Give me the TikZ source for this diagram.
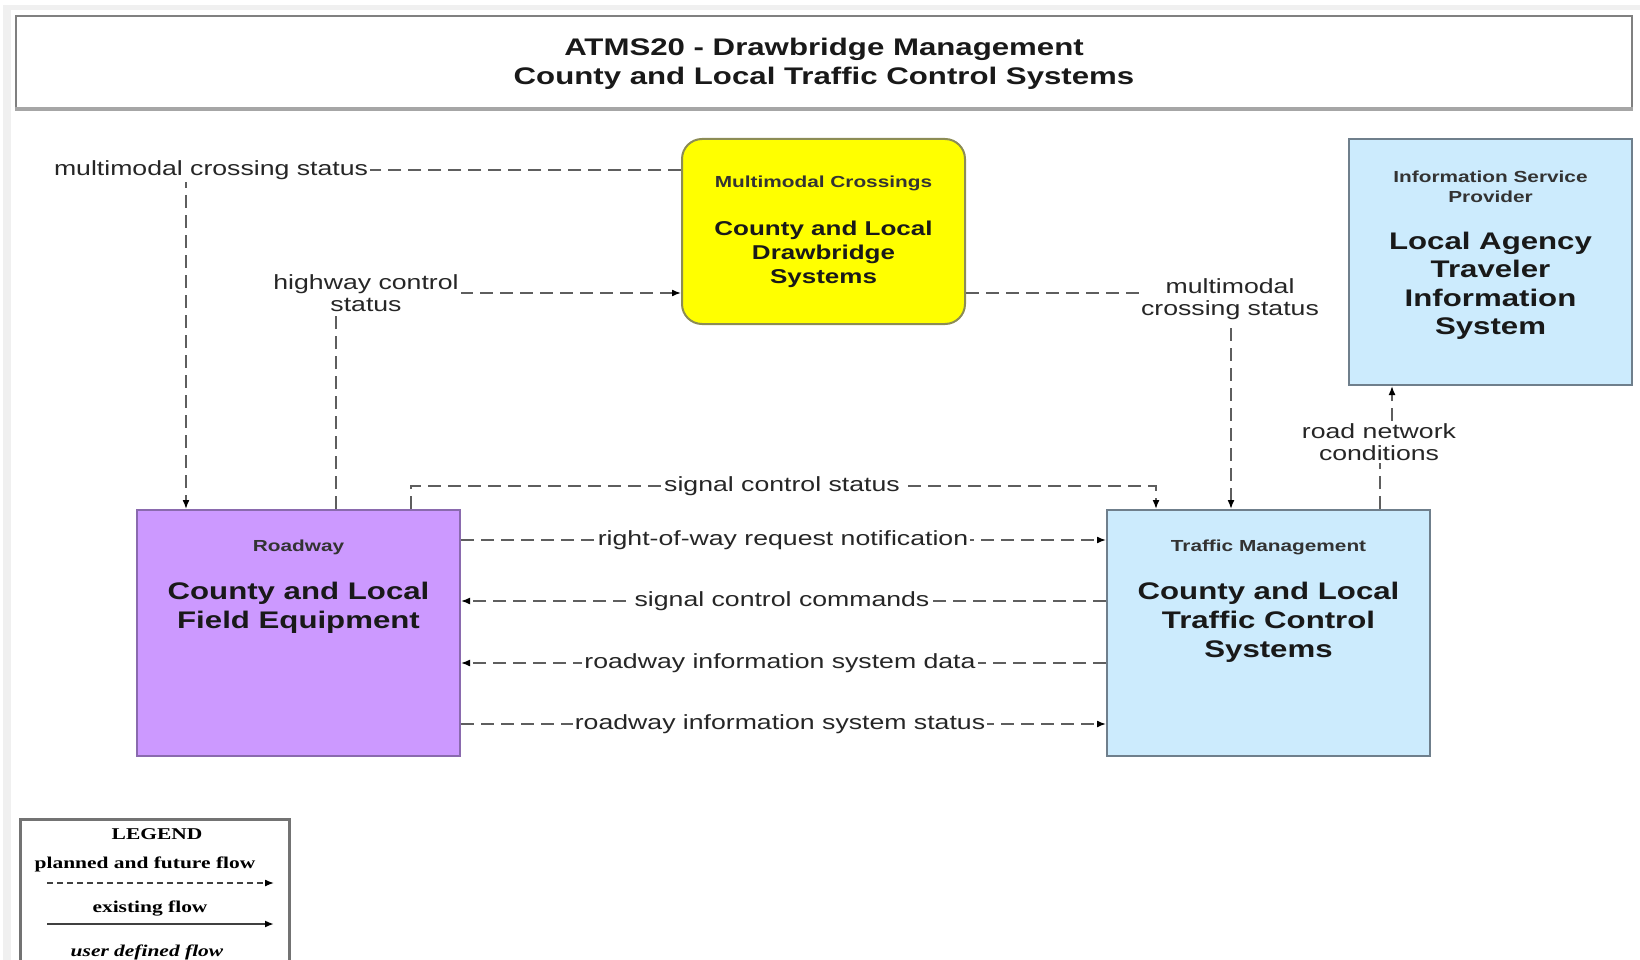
\documentclass[tikz,border=0pt]{standalone}
\usepackage{fontspec}
\setmainfont{Liberation Sans}[FakeStretch=1.3]
\newfontfamily\legendfont{Liberation Serif}[FakeStretch=1.3]
\usetikzlibrary{arrows.meta}

\definecolor{xingyellow}{HTML}{FFFF00}
\definecolor{xingedge}{HTML}{8C8C55}
\definecolor{rwpurple}{HTML}{CC99FF}
\definecolor{rwedge}{HTML}{8A6AAE}
\definecolor{tmblue}{HTML}{CCEBFD}
\definecolor{tmedge}{HTML}{6F7F8C}
\definecolor{flowgray}{HTML}{5E5E5E}
\definecolor{bandgray}{HTML}{F0F0F0}

\tikzset{
	box/.style={draw, line width=2pt, minimum width=323pt, minimum height=246pt, inner sep=0pt},
	hdr/.style={font=\fontsize{16}{19.5}\selectfont\bfseries, text=black!80, align=center},
	main/.style={font=\fontsize{24}{29}\selectfont\bfseries, text=black!90, align=center},
	flow/.style={draw=flowgray, line width=1.6pt, dash pattern=on 13pt off 7pt,
		-{Latex[length=9pt,width=7pt,color=black]}},
	flowlbl/.style={fill=white, inner sep=2pt, font=\fontsize{20.5}{22}\selectfont,
		text=black!85, align=center},
}

\begin{document}
\begin{tikzpicture}[x=1pt,y=-1pt]
	\useasboundingbox (0,0) rectangle (1640,960);
	\fill[bandgray] (3,5) rectangle (1640,10);
	\fill[bandgray] (3,5) rectangle (11,960);

	% title
	\node[draw=black!50, line width=2.5pt, minimum width=1616pt, minimum height=92pt] (title) at (824,62) {};
	\draw[black!35, line width=4pt] (title.south west) -- (title.south east);
	\node[font=\fontsize{24}{29}\selectfont\bfseries, align=center, text=black!90] (ttext) at (824,63.5)
		{ATMS20 - Drawbridge Management\\County and Local Traffic Control Systems};

	% boxes
	\node[box, draw=xingedge, fill=xingyellow, rounded corners=20pt, minimum width=283pt, minimum height=185pt] (xing) at (823.5,231.5) {};
	\node[box, draw=tmedge, fill=tmblue, minimum width=283pt] (isp) at (1490.5,262) {};
	\node[box, draw=rwedge, fill=rwpurple] (rw) at (298.5,633) {};
	\node[box, draw=tmedge, fill=tmblue] (tm) at (1268.5,633) {};

	\node[hdr] (xinghdr) at (823.5,183) {Multimodal Crossings};
	\node[main, font=\fontsize{20}{24}\selectfont\bfseries] (xingtxt) at (823.5,254)
		{County and Local\\Drawbridge\\Systems};
	\node[hdr] (isphdr) at (1490.5,187) {Information Service\\Provider};
	\node[main, font=\fontsize{24}{28.5}\selectfont\bfseries] (isptxt) at (1490.5,286)
		{Local Agency\\Traveler\\Information\\System};
	\node[hdr] (rwhdr) at (298.5,547) {Roadway};
	\node[main] (rwtxt) at (298.5,607.5) {County and Local\\Field Equipment};
	\node[hdr] (tmhdr) at (1268.5,547) {Traffic Management};
	\node[main] (tmtxt) at (1268.5,622) {County and Local\\Traffic Control\\Systems};

	% corners of the bent flows
	\coordinate (c1) at (186,170);
	\coordinate (c2) at (336,293);
	\coordinate (c3) at (1231,293);
	\coordinate (c4a) at (1380,441);
	\coordinate (c4b) at (1392,441);
	\coordinate (c5a) at (411,486);
	\coordinate (c5b) at (1156,486);

	% flows
	\draw[flow] (xing.west |- c1) -- (c1) -- (rw.north -| c1);
	\draw[flow] (rw.north -| c2) -- (c2) -- (xing.west |- c2);
	\draw[flow] (xing.east |- c3) -- (c3) -- (tm.north -| c3);
	\draw[flow] (tm.north -| c4a) -- (c4a) -- (c4b) -- (isp.south -| c4b);
	\draw[flow] (rw.north -| c5a) -- (c5a) -- (c5b) -- (tm.north -| c5b);
	\draw[flow] (rw.east |- 0,540) -- (tm.west |- 0,540);
	\draw[flow] (tm.west |- 0,601) -- (rw.east |- 0,601);
	\draw[flow] (tm.west |- 0,663) -- (rw.east |- 0,663);
	\draw[flow] (rw.east |- 0,724) -- (tm.west |- 0,724);

	% flow labels
	\node[flowlbl] (l1) at (211,170) {multimodal crossing status};
	\node[flowlbl] (l2) at (366,293) {highway control\\status};
	\node[flowlbl] (l3) at (1230,299) {multimodal\\crossing status};
	\node[flowlbl] (l4) at (1379,442) {road network\\conditions};
	\node[flowlbl] (l5) at (782,486) {signal control status};
	\node[flowlbl] (l6) at (783,540) {right-of-way request notification};
	\node[flowlbl] (l7) at (782,601) {signal control commands};
	\node[flowlbl] (l8) at (780,663) {roadway information system data};
	\node[flowlbl] (l9) at (780,724) {roadway information system status};

	% legend
	\draw[black!55, line width=3pt] (20,990) -- (20,819) -- (289,819) -- (289,990);
	\node[font=\fontsize{16.5}{19}\legendfont\bfseries] (lg) at (157,834) {LEGEND};
	\node[font=\fontsize{16.5}{19}\legendfont\bfseries] (lg1) at (145,864) {planned and future flow};
	\coordinate (lp1) at (47,883);
	\coordinate (lp2) at (274,883);
	\draw[black!75, line width=1.4pt, dash pattern=on 6pt off 4pt, -{Latex[length=9pt,width=7pt,color=black]}] (lp1) -- (lp2);
	\node[font=\fontsize{16.5}{19}\legendfont\bfseries] (lg2) at (150,909) {existing flow};
	\coordinate (le1) at (47,924);
	\coordinate (le2) at (274,924);
	\draw[black!75, line width=2pt, -{Latex[length=9pt,width=7pt,color=black]}] (le1) -- (le2);
	\node[font=\fontsize{16.5}{19}\legendfont\bfseries\itshape] (lg3) at (147,952) {user defined flow};
\end{tikzpicture}
\end{document}
